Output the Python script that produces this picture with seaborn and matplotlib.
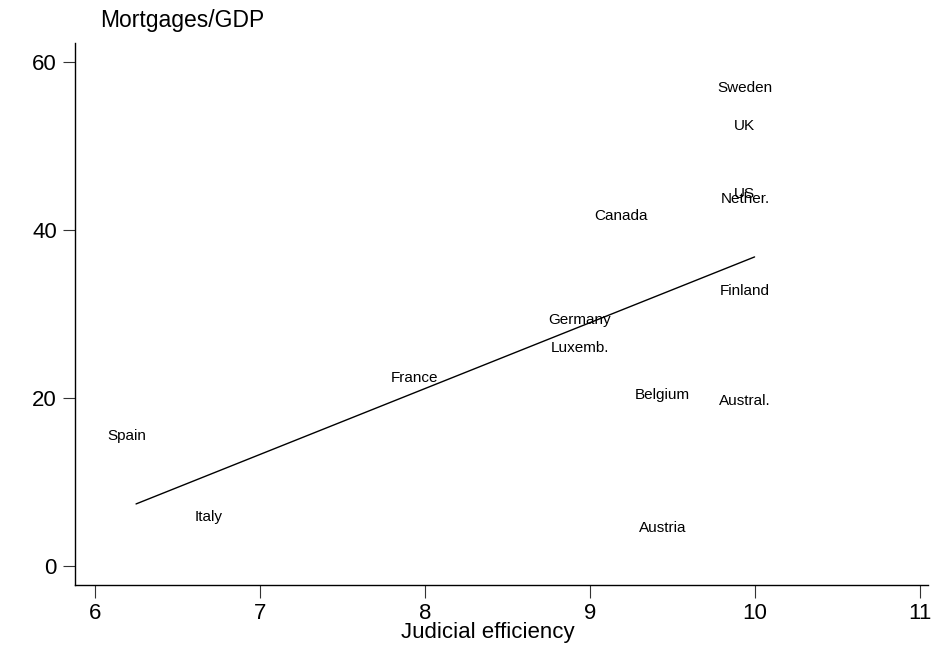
import pandas as pd
import matplotlib.pyplot as plt
import seaborn as sns

# Judicial efficiency vs mortgages/GDP, one label per country
countries = ['Sweden', 'UK', 'US', 'Nether.', 'Canada', 'Finland', 'Germany',
             'Luxemb.', 'France', 'Belgium', 'Austral.', 'Spain', 'Italy', 'Austria']
judicial = [10, 10, 10, 10, 9.25, 10, 9, 9, 8, 9.5, 10, 6.25, 6.75, 9.5]
mortgages = [56.9, 52.4, 44.3, 43.7, 41.7, 32.7, 29.3, 26.0, 22.4, 20.4, 19.6, 15.4, 5.8, 4.5]

x_ticks = [6, 7, 8, 9, 10, 11]
y_ticks = [0, 20, 40, 60]

df = pd.DataFrame({'Country': countries, 'Judicial': judicial, 'Mortgages': mortgages})

sns.set_style("ticks")
plt.rcParams['font.family'] = ['Liberation Sans', 'DejaVu Sans']

fig = plt.figure(figsize=(9.33, 6.51), dpi=100)
ax = fig.add_axes([0.0804, 0.1014, 0.914, 0.8326])

# fitted line only, no markers
sns.regplot(data=df, x='Judicial', y='Mortgages', scatter=False, ci=None,
            line_kws={'color': 'black', 'linewidth': 1.0}, ax=ax)

for _, row in df.iterrows():
    ax.annotate(row['Country'], (row['Judicial'], row['Mortgages']),
                xytext=(-7, 0), textcoords='offset points',
                ha='center', va='center', fontsize=11, color='black')

ax.set_xlim(5.88, 11.05)
ax.set_ylim(-2.3, 62.3)
ax.set_xticks(x_ticks)
ax.set_yticks(y_ticks)
ax.tick_params(axis='both', labelsize=16, length=9, width=0.8, color='#333333',
               labelcolor='black', pad=4)
ax.set_xlabel('Judicial efficiency', fontsize=16, color='black', labelpad=0)
ax.xaxis.set_label_coords(0.484, -0.068)
ax.set_ylabel('')

for side in ['top', 'right']:
    ax.spines[side].set_visible(False)
for side in ['left', 'bottom']:
    ax.spines[side].set_linewidth(1.0)
    ax.spines[side].set_color('black')

fig.text(100 / 933, 1 - 20 / 651, 'Mortgages/GDP', fontsize=16.5, ha='left', va='center',
         color='black')

plt.savefig('out.png', dpi=100)
plt.close()
